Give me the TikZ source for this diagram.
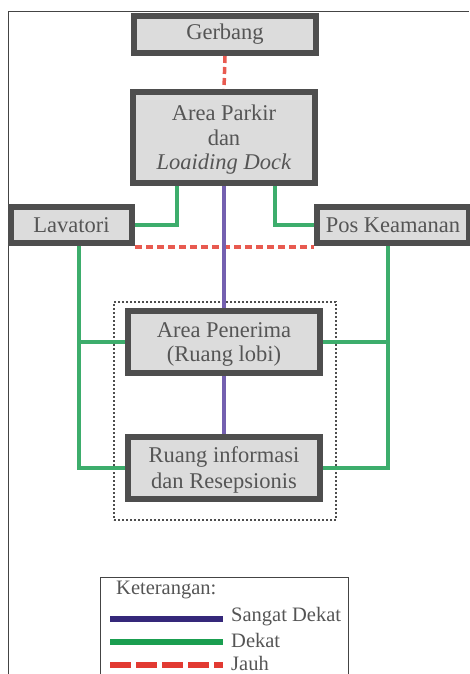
\documentclass[tikz,border=0pt]{standalone}
\usepackage{fontspec}
\setmainfont{Liberation Serif}
\begin{document}
\begin{tikzpicture}[x=1pt,y=1pt,
  room/.style={draw=boxline,line width=6pt,fill=boxfill,text=txt,align=center,
    inner sep=0pt,font=\fontsize{22.5}{24.5}\selectfont},
  jauh/.style={draw=farred,line width=3.5pt,dash pattern=on 7pt off 4pt},
  dekat/.style={draw=neargreen,line width=3.5pt},
  sdekat/.style={draw=closepurple,line width=3.5pt},
  legtxt/.style={text=txt,anchor=west,inner sep=0pt,font=\fontsize{20.5}{22}\selectfont}]
\definecolor{boxline}{HTML}{4E4E4E}
\definecolor{boxfill}{HTML}{DCDCDC}
\definecolor{txt}{HTML}{555555}
\definecolor{farred}{HTML}{E85A50}
\definecolor{neargreen}{HTML}{3DAD6C}
\definecolor{closepurple}{HTML}{7460B0}
\definecolor{legpurple}{HTML}{35287A}
\definecolor{leggreen}{HTML}{1A9E50}
\definecolor{legred}{HTML}{E23A32}
\definecolor{frame}{HTML}{444444}

\useasboundingbox[fill=white] (0,0) rectangle (469,-674);

% page frame
\draw[frame,line width=1pt] (8,-674) -- (8,-12) -- (469,-12);

% grouping of reception rooms
\node[draw=boxline,line width=2pt,dash pattern=on 2pt off 2pt,minimum width=222pt,
  minimum height=218pt,inner sep=0pt] (group) at (225,-411) {};

% rooms
\node[room,minimum width=182pt,minimum height=37pt] (gerbang) at (225,-34.5) {Gerbang};
\node[room,minimum width=182pt,minimum height=91pt] (parkir) at (224,-137.5)
  {\rule{0pt}{20pt}Area Parkir\\dan\\\textit{Loaiding Dock}};
\node[room,minimum width=121pt,minimum height=36pt] (lav) at (71.5,-225) {Lavatori};
\node[room,minimum width=152pt,minimum height=36pt] (pos) at (393,-225) {Pos Keamanan};
\node[room,minimum width=192pt,minimum height=62pt] (pen) at (224,-342)
  {\rule{0pt}{20pt}Area Penerima\\(Ruang lobi)};
\node[room,minimum width=192pt,minimum height=62pt] (info) at (224,-468)
  {\rule{0pt}{20pt}Ruang informasi\\[2pt]dan Resepsionis};

% far relations
\draw[jauh] (gerbang.south) -- (parkir.north);
\draw[jauh] ([yshift=-1pt]lav.south east) -- ([yshift=-1pt]pos.south west);

% close relations
\draw[dekat] ([xshift=-47pt]parkir.south) |- (lav.east);
\draw[dekat] ([xshift=51pt]parkir.south) |- (pos.west);
\coordinate (ltop) at ([xshift=7.5pt]lav.south);
\coordinate (rtop) at ([xshift=-5pt]pos.south);
\draw[dekat] (ltop) |- (info.west);
\draw[dekat] (pen.west) -- (pen.west -| ltop);
\draw[dekat] (rtop) |- (info.east);
\draw[dekat] (pen.east) -- (pen.east -| rtop);

% very close relations
\draw[sdekat] (parkir.south) -- (pen.north);
\draw[sdekat] (pen.south) -- (info.north);

% legend
\node[draw=frame,line width=1pt,minimum width=248pt,minimum height=110pt,inner sep=0pt,fill=white]
  (legend) at (224,-632) {};
\node[legtxt] (ket) at (116,-590) {Keterangan:};
\coordinate (l1a) at (110,-619); \coordinate (l1b) at (223,-619);
\coordinate (l2a) at (110,-642); \coordinate (l2b) at (223,-642);
\coordinate (l3a) at (110,-665); \coordinate (l3b) at (223,-665);
\draw[legpurple,line width=5.5pt] (l1a) -- (l1b);
\draw[leggreen,line width=5.5pt] (l2a) -- (l2b);
\draw[legred,line width=5.5pt,dash pattern=on 21pt off 5pt] (l3a) -- (l3b);
\node[legtxt] (t1) at (231,-617) {Sangat Dekat};
\node[legtxt] (t2) at (231,-640) {Dekat};
\node[legtxt] (t3) at (231,-663) {Jauh};
\end{tikzpicture}
\end{document}
